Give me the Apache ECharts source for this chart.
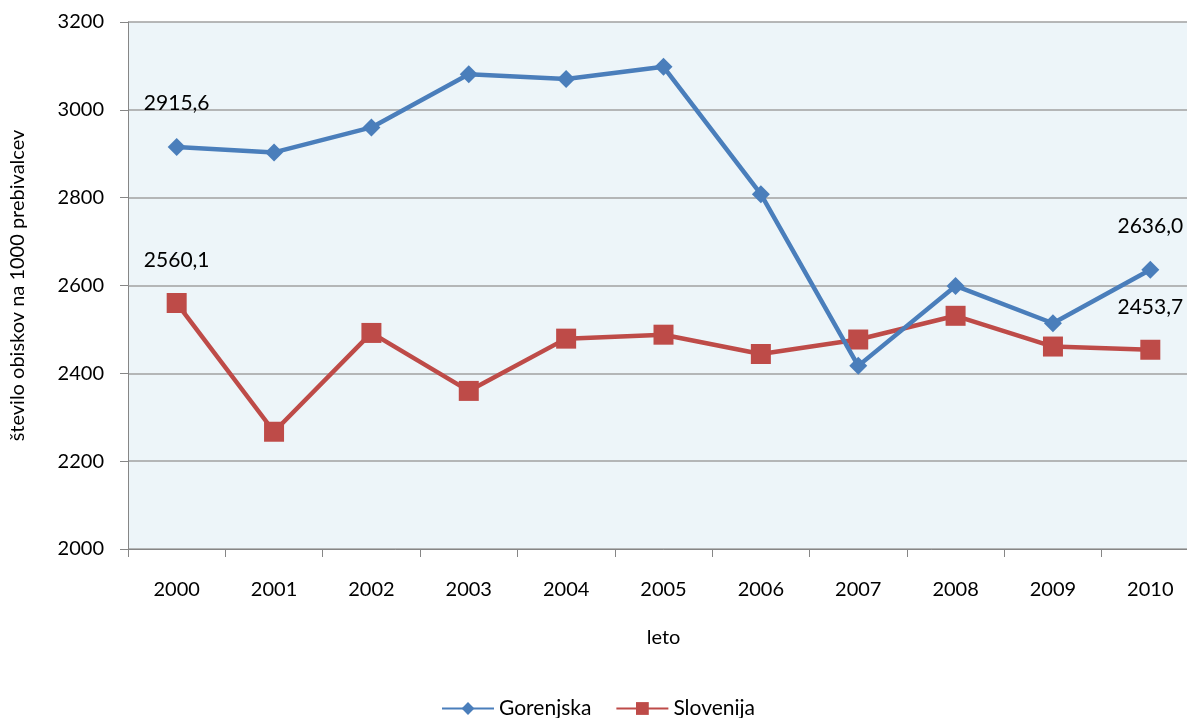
<!DOCTYPE html>
<html>
<head>
<meta charset="utf-8">
<script src="https://cdn.jsdelivr.net/npm/echarts@6/dist/echarts.min.js"></script>
<style>
html,body{margin:0;padding:0;background:#fff;overflow:hidden;}
#chart{width:1199px;height:718px;}
</style>
</head>
<body>
<div id="chart"></div>
<script>
var years = ['2000','2001','2002','2003','2004','2005','2006','2007','2008','2009','2010'];
var gorenjska = [2915.6, 2903, 2960, 3081, 3070, 3098, 2808, 2417, 2599, 2514, 2636.0];
var slovenija = [2560.1, 2267, 2492, 2360, 2479, 2488, 2444, 2477, 2531, 2461, 2453.7];
var labeledIdx = [0, 10];
var seriesNames = ['Gorenjska', 'Slovenija'];
var yAxisTitle = 'število obiskov na 1000 prebivalcev';
var xAxisTitle = 'leto';

var FONT = 'Lato, "Open Sans", sans-serif';
var FS = 20;
function fmt(v){ return v.toFixed(1).replace('.', ','); }
function buildData(arr){
  return arr.map(function(v, i){
    return {
      value: v,
      label: { show: labeledIdx.indexOf(i) >= 0 }
    };
  });
}

var chart = echarts.init(document.getElementById('chart'), null, {renderer: 'canvas'});
chart.setOption({
  animation: false,
  backgroundColor: '#ffffff',
  textStyle: { fontFamily: FONT },
  grid: {
    left: 128, top: 22, right: 0, bottom: 169,
    show: true, backgroundColor: '#EDF5F9', borderWidth: 0
  },
  legend: {
    top: 693,
    left: 436,
    itemWidth: 52,
    itemHeight: 16,
    itemGap: 24,
    textStyle: { fontSize: 21, color: '#000', fontFamily: FONT },
    data: seriesNames
  },
  xAxis: {
    type: 'category',
    data: years,
    boundaryGap: true,
    name: xAxisTitle,
    nameLocation: 'middle',
    nameGap: 79,
    nameTextStyle: { fontSize: FS, color: '#000', fontFamily: FONT },
    axisLine: { lineStyle: { color: '#868686', width: 1 } },
    axisTick: { show: true, length: 8, alignWithLabel: false, lineStyle: { color: '#868686' } },
    axisLabel: { fontSize: FS, color: '#000', margin: 31, fontFamily: FONT },
    splitLine: { show: false }
  },
  yAxis: {
    type: 'value',
    min: 2000, max: 3200, interval: 200,
    name: yAxisTitle,
    nameLocation: 'middle',
    nameRotate: 90,
    nameGap: 100,
    nameTextStyle: { fontSize: FS, color: '#000', fontFamily: FONT },
    axisLine: { show: true, lineStyle: { color: '#868686', width: 1 } },
    axisTick: { show: true, length: 8, lineStyle: { color: '#868686' } },
    axisLabel: { fontSize: FS, color: '#000', margin: 24, fontFamily: FONT,
      formatter: function(v){ return String(v); } },
    splitLine: { show: true, lineStyle: { color: '#A0A0A0', width: 1.5 } }
  },
  series: [
    {
      name: seriesNames[0],
      type: 'line',
      data: buildData(gorenjska),
      symbol: 'diamond',
      symbolSize: 18,
      itemStyle: { color: '#4A7EBB' },
      lineStyle: { color: '#4A7EBB', width: 4.5 },
      label: {
        position: 'top', distance: 24, fontSize: 21, color: '#000', fontFamily: FONT,
        formatter: function(p){ return fmt(p.value); }
      },
      z: 3
    },
    {
      name: seriesNames[1],
      type: 'line',
      data: buildData(slovenija),
      symbol: 'rect',
      symbolSize: 20,
      itemStyle: { color: '#BE4B48' },
      lineStyle: { color: '#BE4B48', width: 4.5 },
      label: {
        position: 'top', distance: 22, fontSize: 21, color: '#000', fontFamily: FONT,
        formatter: function(p){ return fmt(p.value); }
      },
      z: 2
    }
  ]
});
</script>
</body>
</html>
